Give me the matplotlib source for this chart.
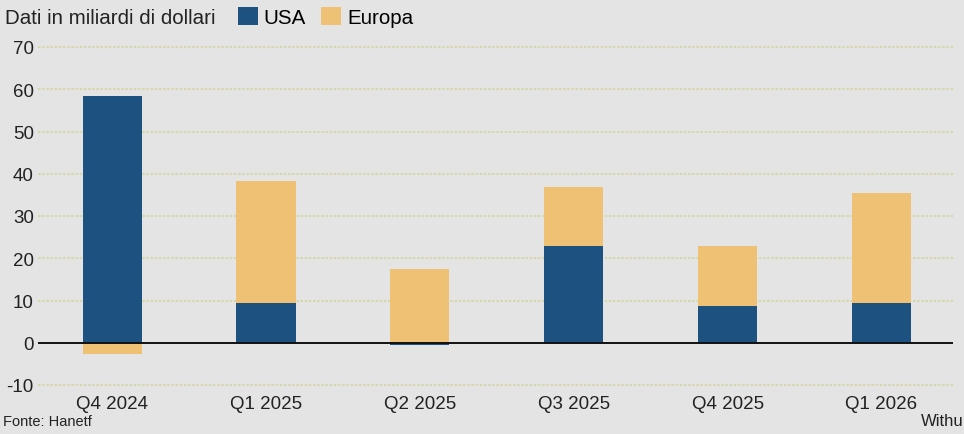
import numpy as np
import matplotlib
matplotlib.use("Agg")
import matplotlib.pyplot as plt

# ─── dati ───────────────────────────────────────────
quarters = ["Q4 2024", "Q1 2025", "Q2 2025", "Q3 2025", "Q4 2025", "Q1 2026"]
usa      = np.array([58.4, 9.3, -0.6, 23.0, 8.8, 9.3])
europa   = np.array([-2.6, 29.0, 17.4, 13.9, 14.1, 26.2])

yticks = [-10, 0, 10, 20, 30, 40, 50, 60, 70]

# ─── stile ──────────────────────────────────────────
BG     = "#e4e4e4"
BLUE   = "#1d5180"
YELLOW = "#efc174"
GRID   = "#d4d6a0"
plt.rcParams["font.family"] = ["Liberation Sans", "DejaVu Sans"]

fig = plt.figure(figsize=(9.64, 4.35), dpi=100, facecolor=BG)
ax = fig.add_axes([38/964, 1 - 386/435, (953 - 38)/964, (386 - 48)/435])
ax.set_facecolor(BG)

x = np.arange(len(quarters))
w = 0.385
eu_bottom = np.where(europa >= 0, np.maximum(usa, 0), np.minimum(usa, 0))
ax.bar(x, usa, w, color=BLUE, label="USA", zorder=3)
ax.bar(x, europa, w, bottom=eu_bottom, color=YELLOW, label="Europa", zorder=3)

ax.set_ylim(-10, 70)
ax.set_xlim(-0.482, 5.465)
ax.set_yticks(yticks)
ax.set_yticklabels([str(t) for t in yticks], fontsize=13.5, color="#222222")
ax.set_xticks(x)
ax.set_xticklabels(quarters, fontsize=13.5, color="#222222")
ax.tick_params(axis="y", length=0, pad=3)
ax.tick_params(axis="x", length=0, pad=7)
for t in ax.get_yticklabels():
    t.set_horizontalalignment("right")
for s in ax.spines.values():
    s.set_visible(False)

for t in yticks:
    if t != 0:
        ax.axhline(t, color=GRID, lw=1.2, ls=(0, (1.5, 1)), zorder=1, clip_on=False)
ax.axhline(0, color="#111111", lw=1.4, zorder=4)

# ─── titolo + legenda ───────────────────────────────
fig.text(5/964, 1 - 18/435, "Dati in miliardi di dollari", fontsize=14.8,
         va="center", ha="left", color="#222222")
fig.legend(loc="center left", bbox_to_anchor=(238/964, 1 - 18/435), ncol=2,
           frameon=False, fontsize=14.8, handlelength=0.95, handleheight=0.95,
           handletextpad=0.3, columnspacing=0.75, borderpad=0, borderaxespad=0)

fig.text(3/964, 1 - 422/435, "Fonte: Hanetf", fontsize=10.5, va="center",
         ha="left", color="#222222")
fig.text(964/964, 1 - 422/435, "Withu", fontsize=12, va="center",
         ha="right", color="#222222")

fig.savefig("out.png", dpi=100, facecolor=BG)
